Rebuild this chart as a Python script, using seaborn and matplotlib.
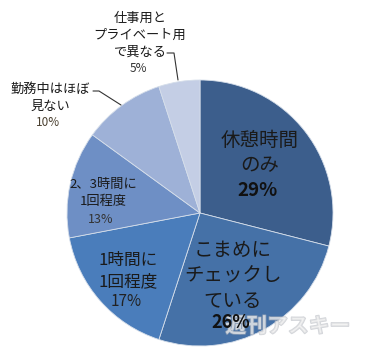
import matplotlib
matplotlib.use("Agg")
import matplotlib.pyplot as plt
import matplotlib.patheffects as pe
import seaborn as sns

# ---- data ----
categories = ["休憩時間のみ", "こまめにチェックしている", "1時間に1回程度",
              "2、3時間に1回程度", "勤務中はほぼ見ない", "仕事用とプライベート用で異なる"]
label_lines = ["休憩時間\nのみ", "こまめに\nチェックし\nている", "1時間に\n1回程度",
               "2、3時間に\n1回程度", "勤務中はほぼ\n見ない", "仕事用と\nプライベート用\nで異なる"]
values = [29, 26, 17, 13, 10, 5]
pct_labels = ["29%", "26%", "17%", "13%", "10%", "5%"]

colors = ["#3C5E8C", "#4571A7", "#4A7DBB", "#6E8FC5", "#9EB1D7", "#C4CEE5"]

sns.set_theme(style="white")
plt.rcParams['font.family'] = ['Noto Sans CJK JP', 'DejaVu Sans']

W, H = 368, 358
CX, CY, R = 200, 213, 133

def px(x, y):
    return (x - CX) / R, (CY - y) / R

fig = plt.figure(figsize=(W / 100, H / 100), dpi=100)
ax = fig.add_axes([0, 0, 1, 1])
ax.pie(values, colors=colors, startangle=90, counterclock=False, radius=1,
       wedgeprops=dict(edgecolor="#d5deea", linewidth=0.6))
ax.set_aspect('auto')
ax.set_xlim(-CX / R, (W - CX) / R)
ax.set_ylim(-(H - CY) / R, CY / R)
ax.axis('off')

# layout: (name x, name block y, name size, linespacing, pct y, pct size, pct bold, pct color)
layout = [
    (260, 153, 14, 1.30, 191, 13.5, True, "#111111"),
    (233, 276, 14, 1.30, 323, 13, True, "#111111"),
    (128, 271, 12, 1.35, 302, 11, False, "#222222"),
    (103, 193, 9.5, 1.45, 220, 9, False, "#333333"),
    (50, 98, 9.5, 1.45, 123, 8.5, False, "#4a4030"),
    (140, 35, 9.5, 1.40, 69, 8.5, False, "#333333"),
]
for text, pct, (x, y, fs, ls, py, pfs, bold, pc) in zip(label_lines, pct_labels, layout):
    ax.text(*px(x, y), text, ha='center', va='center', fontsize=fs,
            linespacing=ls, color="#1a1a1a", zorder=5)
    ax.text(*px(x - 2, py), pct, ha='center', va='center', fontsize=pfs,
            fontweight='bold' if bold else 'normal', color=pc, zorder=5)

# leader lines
for pts in ([(93, 91), (99, 91), (121, 105)], [(167, 53), (174, 53), (178, 80)]):
    xs, ys = zip(*[px(a, b) for a, b in pts])
    ax.plot(xs, ys, color="#333333", lw=0.8)

# watermark (semi-transparent, behind the labels)
ax.text(*px(288, 326), "週刊アスキー", ha='center', va='center', fontsize=15,
        fontweight='bold', color="#f0f0f0", alpha=0.55, zorder=2,
        path_effects=[pe.withStroke(linewidth=1.2, foreground="#b0b4bc")])

fig.savefig("out.png", dpi=100)
